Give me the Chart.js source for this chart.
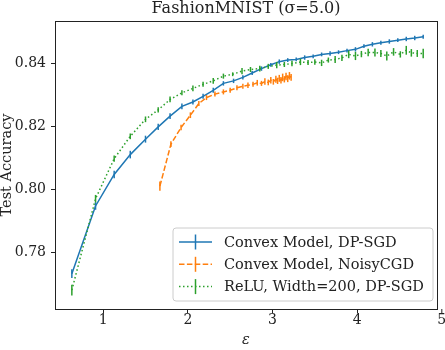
<!DOCTYPE html>
<html>
<head>
<meta charset="utf-8">
<title>FashionMNIST</title>
<script src="https://cdn.jsdelivr.net/npm/chart.js@4/dist/chart.umd.min.js"></script>
<style>
  html, body { margin: 0; padding: 0; background: #fff; }
</style>
</head>
<body>
<canvas id="chart" width="445" height="350"></canvas>
<script>
// Convex Model, DP-SGD
const convexSgdEps = [0.63, 0.91, 1.13, 1.32, 1.50, 1.65, 1.79, 1.93, 2.06, 2.18, 2.30, 2.42, 2.54, 2.65, 2.76,
  2.87, 2.98, 3.08, 3.18, 3.28, 3.38, 3.48, 3.58, 3.68, 3.78, 3.88, 3.98, 4.08, 4.18, 4.28, 4.38, 4.48, 4.58, 4.68, 4.78];
const convexSgdAcc = [0.7732, 0.7947, 0.8047, 0.8110, 0.8159, 0.8198, 0.8232, 0.8263, 0.8277, 0.8295, 0.8314, 0.8336, 0.8344, 0.8355, 0.8369,
  0.8383, 0.8395, 0.8405, 0.8410, 0.8412, 0.8418, 0.8422, 0.8428, 0.8431, 0.8435, 0.8440, 0.8444, 0.8454, 0.8460, 0.8465, 0.8469, 0.8473, 0.8477, 0.8480, 0.8484];
const convexSgdErr = [0.0014, 0.0012, 0.0012, 0.0012, 0.0011, 0.0010, 0.0009, 0.0009, 0.0008, 0.0008, 0.0008, 0.0007, 0.0007, 0.0007, 0.0006,
  0.0007, 0.0006, 0.0007, 0.0006, 0.0006, 0.0007, 0.0006, 0.0006, 0.0007, 0.0006, 0.0006, 0.0007, 0.0006, 0.0007, 0.0006, 0.0007, 0.0006, 0.0007, 0.0007, 0.0006];

// Convex Model, NoisyCGD
const noisyCgdEps = [1.67, 1.80, 1.92, 2.03, 2.13, 2.22, 2.32, 2.42, 2.50, 2.58, 2.65, 2.71, 2.77, 2.82, 2.87,
  2.91, 2.95, 2.98, 3.01, 3.04, 3.06, 3.08, 3.10, 3.12, 3.14, 3.16, 3.18, 3.20, 3.22];
const noisyCgdAcc = [0.8010, 0.8143, 0.8196, 0.8235, 0.8272, 0.8291, 0.8302, 0.8309, 0.8314, 0.8322, 0.8327, 0.8330, 0.8333, 0.8338, 0.8336,
  0.8342, 0.8339, 0.8346, 0.8341, 0.8349, 0.8344, 0.8352, 0.8346, 0.8355, 0.8349, 0.8358, 0.8351, 0.8360, 0.8355];
const noisyCgdErr = [0.0015, 0.0009, 0.0009, 0.0009, 0.0008, 0.0008, 0.0008, 0.0008, 0.0008, 0.0008, 0.0008, 0.0009, 0.0008, 0.0009, 0.0008,
  0.0010, 0.0009, 0.0010, 0.0009, 0.0011, 0.0010, 0.0011, 0.0010, 0.0012, 0.0010, 0.0012, 0.0011, 0.0012, 0.0011];

// ReLU, Width=200, DP-SGD
const reluSgdEps = [0.63, 0.91, 1.13, 1.32, 1.50, 1.65, 1.79, 1.93, 2.06, 2.18, 2.30, 2.42, 2.53, 2.64, 2.74,
  2.85, 2.95, 3.05, 3.14, 3.23, 3.33, 3.42, 3.50, 3.58, 3.66, 3.74, 3.82, 3.90, 3.98, 4.05,
  4.13, 4.21, 4.28, 4.35, 4.43, 4.51, 4.58, 4.64, 4.71, 4.78];
const reluSgdAcc = [0.7680, 0.7970, 0.8097, 0.8168, 0.8222, 0.8252, 0.8285, 0.8306, 0.8320, 0.8333, 0.8344, 0.8359, 0.8365, 0.8375, 0.8380,
  0.8383, 0.8390, 0.8394, 0.8396, 0.8399, 0.8404, 0.8402, 0.8404, 0.8401, 0.8410, 0.8412, 0.8417, 0.8428, 0.8423, 0.8429,
  0.8434, 0.8434, 0.8431, 0.8423, 0.8436, 0.8428, 0.8441, 0.8433, 0.8431, 0.8431];
const reluSgdErr = [0.0017, 0.0012, 0.0010, 0.0009, 0.0009, 0.0008, 0.0009, 0.0008, 0.0009, 0.0008, 0.0009, 0.0008, 0.0006, 0.0010, 0.0008,
  0.0009, 0.0008, 0.0010, 0.0008, 0.0009, 0.0010, 0.0008, 0.0009, 0.0010, 0.0008, 0.0011, 0.0010, 0.0012, 0.0013, 0.0010,
  0.0012, 0.0013, 0.0011, 0.0014, 0.0012, 0.0010, 0.0014, 0.0012, 0.0011, 0.0015];

const xTicks = [1, 2, 3, 4, 5];
const yTicks = [0.78, 0.80, 0.82, 0.84];

const SERIF = '"DejaVu Serif", "Liberation Serif", serif';
const INK = '#222';

const series = [
  { label: 'Convex Model, DP-SGD', eps: convexSgdEps, acc: convexSgdAcc, err: convexSgdErr, color: '#1f77b4', dash: [], order: 2 },
  { label: 'Convex Model, NoisyCGD', eps: noisyCgdEps, acc: noisyCgdAcc, err: noisyCgdErr, color: '#ff7f0e', dash: [5.5, 2.4], order: 1 },
  { label: 'ReLU, Width=200, DP-SGD', eps: reluSgdEps, acc: reluSgdAcc, err: reluSgdErr, color: '#2ca02c', dash: [1.5, 2.5], order: 0 }
];

// vertical error bars, drawn right after each line
const errorBars = {
  id: 'errorBars',
  afterDatasetDraw(chart, args) {
    const ds = chart.data.datasets[args.index];
    if (!ds.err) return;
    const { ctx, chartArea: a } = chart;
    const xs = chart.scales.x, ys = chart.scales.y;
    ctx.save();
    ctx.beginPath();
    ctx.rect(a.left, a.top, a.right - a.left, a.bottom - a.top);
    ctx.clip();
    ctx.strokeStyle = ds.borderColor;
    ctx.lineWidth = 1.5;
    ds.data.forEach((p, i) => {
      const x = xs.getPixelForValue(p.x);
      ctx.beginPath();
      ctx.moveTo(x, ys.getPixelForValue(p.y - ds.err[i]));
      ctx.lineTo(x, ys.getPixelForValue(p.y + ds.err[i]));
      ctx.stroke();
    });
    ctx.restore();
  }
};

// frame, the clipped "5" tick and the legend box
const decorations = {
  id: 'decorations',
  afterDraw(chart) {
    const { ctx, chartArea: a } = chart;
    const xs = chart.scales.x;
    ctx.save();
    ctx.strokeStyle = INK;
    ctx.lineWidth = 1;
    ctx.strokeRect(a.left + 0.5, a.top + 0.5, a.right - a.left, a.bottom - a.top);

    // last tick sits just beyond the right edge
    const x5 = xs.getPixelForValue(xTicks[xTicks.length - 1]);
    ctx.beginPath();
    ctx.moveTo(x5, a.bottom);
    ctx.lineTo(x5, a.bottom + 4);
    ctx.stroke();
    ctx.fillStyle = INK;
    ctx.font = '14px ' + SERIF;
    ctx.textAlign = 'center';
    ctx.textBaseline = 'middle';
    ctx.fillText(String(xTicks[xTicks.length - 1]), x5, a.bottom + 11);

    // legend
    const bx = 173, by = 228, bw = 260, bh = 73;
    ctx.beginPath();
    ctx.roundRect(bx, by, bw, bh, 3);
    ctx.fillStyle = 'rgba(255,255,255,0.8)';
    ctx.fill();
    ctx.strokeStyle = '#cccccc';
    ctx.stroke();
    ctx.font = '14.5px ' + SERIF;
    chart.data.datasets.forEach((ds, i) => {
      const y = by + 14 + i * 22.3;
      ctx.strokeStyle = ds.borderColor;
      ctx.lineWidth = 1.5;
      ctx.setLineDash(ds.borderDash);
      ctx.beginPath();
      ctx.moveTo(179, y);
      ctx.lineTo(212, y);
      ctx.stroke();
      ctx.setLineDash([]);
      ctx.beginPath();
      ctx.moveTo(195.5, y - 7.5);
      ctx.lineTo(195.5, y + 7.5);
      ctx.stroke();
      ctx.fillStyle = INK;
      ctx.textAlign = 'left';
      ctx.fillText(ds.label, 224, y + 1);
    });
    ctx.restore();
  }
};

new Chart(document.getElementById('chart'), {
  type: 'line',
  data: {
    datasets: series.map(s => ({
      label: s.label,
      data: s.eps.map((e, i) => ({ x: e, y: s.acc[i] })),
      err: s.err,
      borderColor: s.color,
      backgroundColor: s.color,
      borderDash: s.dash,
      borderWidth: 1.5,
      pointRadius: 0,
      tension: 0,
      fill: false,
      order: s.order
    }))
  },
  options: {
    responsive: false,
    animation: false,
    devicePixelRatio: 1,
    layout: { padding: { left: 0, right: 8, top: 0, bottom: 0 } },
    plugins: {
      legend: { display: false },
      tooltip: { enabled: false },
      title: {
        display: true,
        text: 'FashionMNIST (σ=5.0)',
        color: INK,
        fullSize: false,
        font: { family: SERIF, size: 16, weight: 'normal', lineHeight: 1 },
        padding: { top: 1, bottom: 4 }
      }
    },
    scales: {
      x: {
        type: 'linear',
        min: 0.431,
        max: 4.943,
        afterBuildTicks: s => { s.ticks = xTicks.filter(v => v <= s.max).map(v => ({ value: v })); },
        afterFit: s => { s.height = 41; },
        grid: { drawOnChartArea: false, drawTicks: true, tickLength: 4, color: INK },
        border: { color: INK, width: 1 },
        ticks: { color: INK, padding: 1.5, maxRotation: 0, font: { family: SERIF, size: 14, lineHeight: 0.8 } },
        title: {
          display: true, text: 'ε', color: INK,
          font: { family: SERIF, size: 14.5, style: 'italic', lineHeight: 1 },
          padding: { top: 0, bottom: 2.5 }
        }
      },
      y: {
        type: 'linear',
        min: 0.762,
        max: 0.8534,
        afterBuildTicks: s => { s.ticks = yTicks.map(v => ({ value: v })); },
        afterFit: s => { s.width = 55; },
        grid: { drawOnChartArea: false, drawTicks: true, tickLength: 4, color: INK },
        border: { color: INK, width: 1 },
        ticks: { color: INK, padding: 5, callback: v => v.toFixed(2), font: { family: SERIF, size: 14 } },
        title: {
          display: true, text: 'Test Accuracy', color: INK,
          font: { family: SERIF, size: 14.5, lineHeight: 1 },
          padding: { top: 0, bottom: 0 }
        }
      }
    }
  },
  plugins: [errorBars, decorations]
});
</script>
</body>
</html>
